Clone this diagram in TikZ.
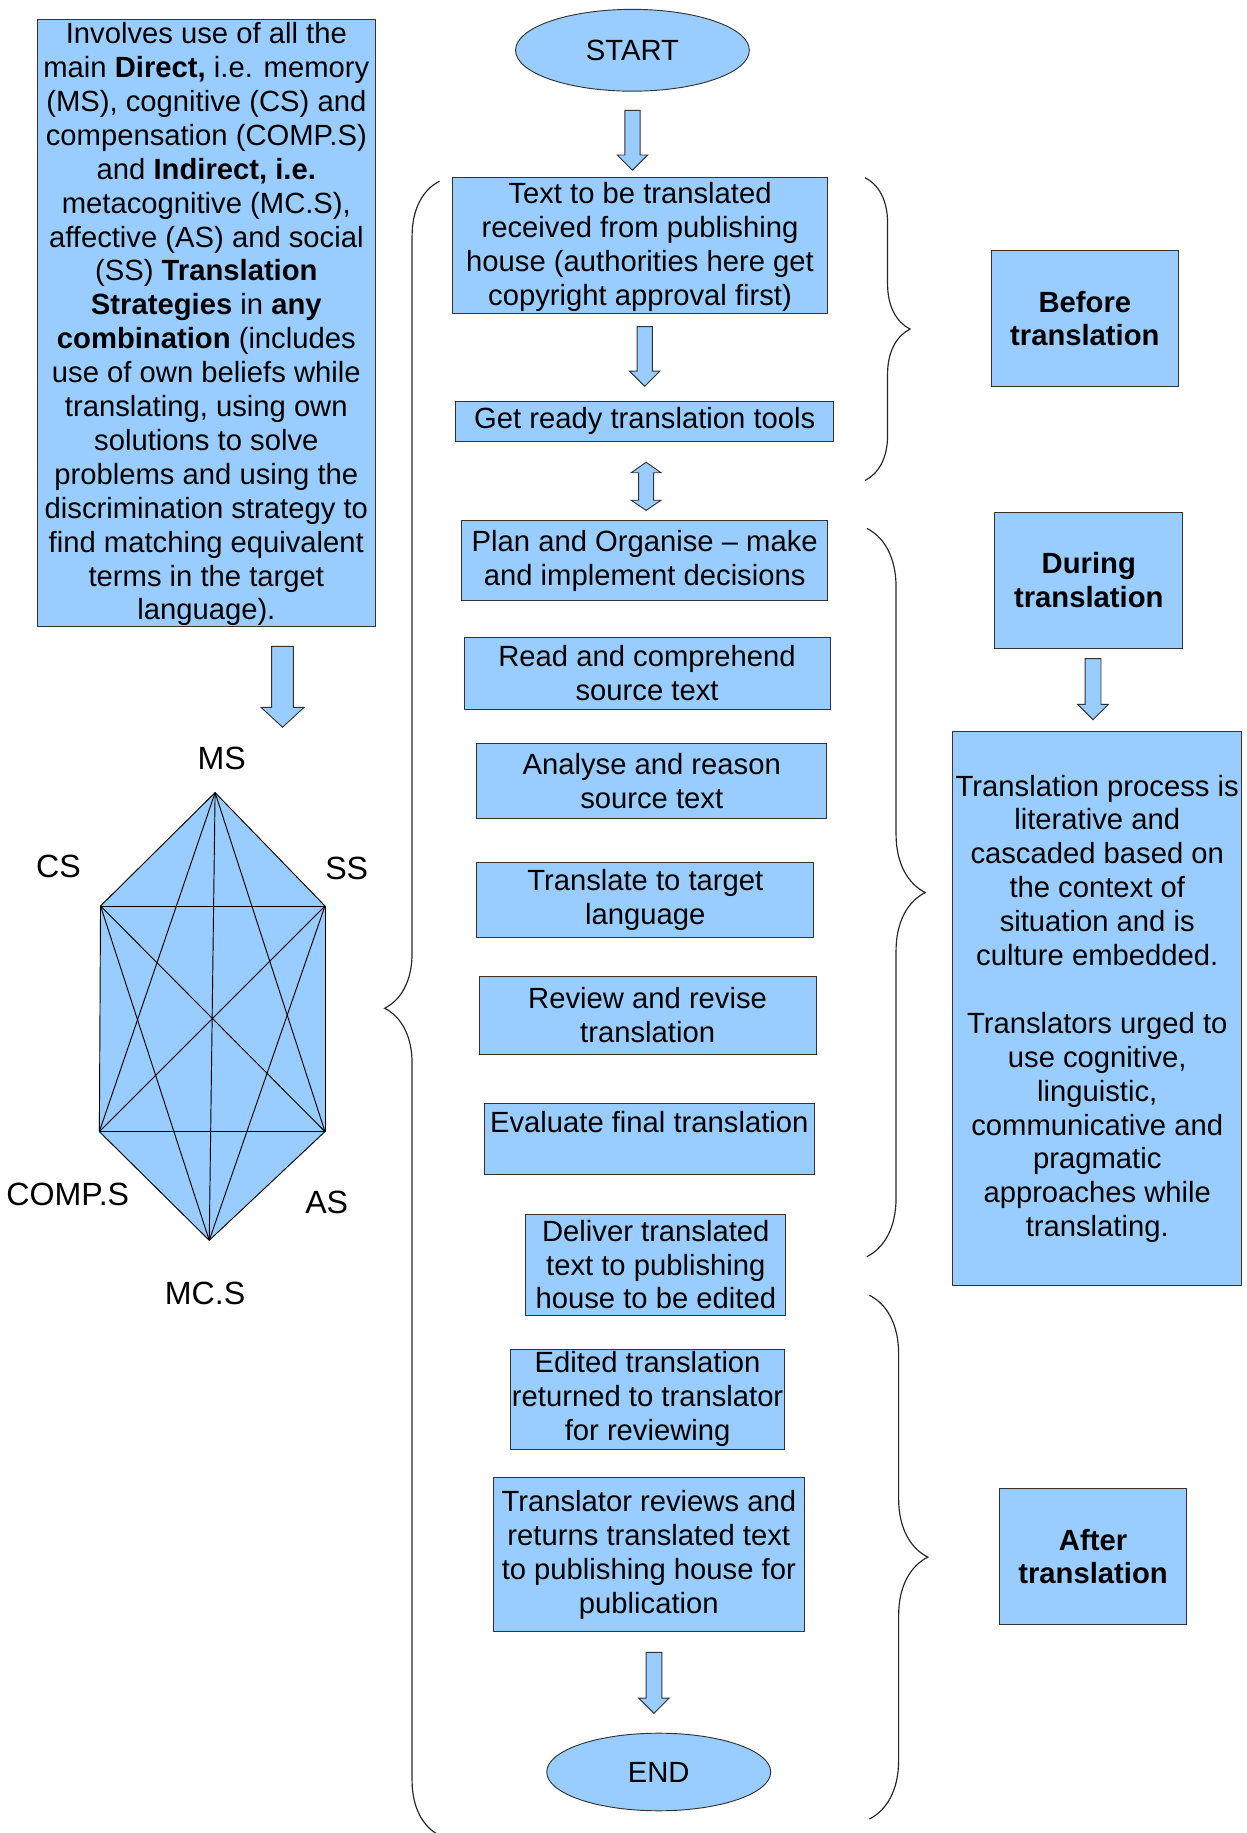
\documentclass[tikz,border=0pt]{standalone}
\usepackage{fontspec}
\setmainfont{Liberation Sans}
\usepackage{xcolor}
\usepackage{tikz}
\usetikzlibrary{calc, shapes.geometric, decorations.pathreplacing}

\definecolor{boxblue}{HTML}{99CCFF}

% block arrow pointing down: top point, tip point, half shaft, half head, head length
\newcommand{\flowarrow}[5]{%
  \draw[blockarrow] let \p1=#1, \p2=#2 in
    (\x1-#3,\y1) -- (\x1+#3,\y1) -- (\x1+#3,\y2+#5) -- (\x1+#4,\y2+#5)
    -- (\x1,\y2) -- (\x1-#4,\y2+#5) -- (\x1-#3,\y2+#5) -- cycle;}

\begin{document}
\begin{tikzpicture}[x=0.5pt, y=-0.5pt,
    font=\fontsize{12.5}{14.5}\selectfont,
    flowbox/.style={draw=black!80, fill=boxblue, align=center, inner sep=0pt},
    termnode/.style={draw=black!80, fill=boxblue, ellipse, inner sep=0pt},
    blockarrow/.style={draw=black!80, fill=boxblue, line width=0.4pt},
    hexlabel/.style={font=\fontsize{13.75}{16}\selectfont},
    bracestyle/.style={draw=black!85, line width=0.5pt, decorate, decoration={brace, amplitude=#1}}]
	\useasboundingbox (0,0) rectangle (1066,1568);

	% strategies
	\node[flowbox, minimum width=144.5pt, minimum height=259.75pt] (strat) at (176.5,276.25)
		{\strut Involves use of all the\\ main \textbf{Direct,} i.e. memory\\ (MS), cognitive (CS) and\\
		 compensation (COMP.S)\\ and \textbf{Indirect, i.e.}\\ metacognitive (MC.S),\\
		 affective (AS) and social\\ (SS) \textbf{Translation}\\ \textbf{Strategies} in \textbf{any}\\
		 \textbf{combination} (includes\\ use of own beliefs while\\ translating, using own\\
		 solutions to solve\\ problems and using the\\ discrimination strategy to\\
		 find matching equivalent\\ terms in the target\\ language).};

	\coordinate (ms) at (184,678);
	\coordinate (cs) at (86,775);
	\coordinate (ss) at (278,775);
	\coordinate (comp) at (85,968);
	\coordinate (as) at (278,968);
	\coordinate (mcs) at (179,1061);
	\fill[boxblue] (ms) -- (ss) -- (as) -- (mcs) -- (comp) -- (cs) -- cycle;
	\foreach \a/\b in {ms/cs, ms/ss, ms/comp, ms/as, ms/mcs, cs/ss, cs/comp, cs/as,
	                   cs/mcs, ss/comp, ss/as, ss/mcs, comp/as, comp/mcs, as/mcs}
		\draw[line width=0.4pt] (\a) -- (\b);

	\node[hexlabel] (mslabel) at (189.6,648.5) {MS};
	\node[hexlabel] (cslabel) at (50,741) {CS};
	\node[hexlabel] (sslabel) at (296.6,742.6) {SS};
	\node[hexlabel] (complabel) at (58,1022) {COMP.S};
	\node[hexlabel] (aslabel) at (279.5,1029) {AS};
	\node[hexlabel] (mcslabel) at (175.4,1106) {MC.S};

	% process steps
	\node[termnode, minimum width=100pt, minimum height=35pt] (start) at (541,43) {START};
	\node[flowbox, minimum width=160.5pt, minimum height=58pt] (recv) at (547.5,210)
		{\strut Text to be translated\\ received from publishing\\ house (authorities here get\\ copyright approval first)};
	\node[flowbox, minimum width=161.5pt, minimum height=17pt] (tools) at (551.5,360.5)
		{Get ready translation tools};
	\node[flowbox, minimum width=156.5pt, minimum height=34.5pt] (plan) at (551.5,479.5)
		{Plan and Organise – make\\ and implement decisions};
	\node[flowbox, minimum width=156.5pt, minimum height=31pt] (read) at (553.5,576)
		{Read and comprehend\\ source text};
	\node[flowbox, minimum width=149.5pt, minimum height=32pt] (analyse) at (557.5,668)
		{Analyse and reason\\ source text};
	\node[flowbox, minimum width=144pt, minimum height=32pt] (target) at (552,770)
		{Translate to target\\ language};
	\node[flowbox, minimum width=144pt, minimum height=33.5pt] (revise) at (554,868.5)
		{Review and revise\\ translation};
	\node[flowbox, minimum width=141pt, minimum height=30.5pt] (evaluate) at (555.4,974.5)
		{Evaluate final translation\\ \mbox{}};
	\node[flowbox, minimum width=111.25pt, minimum height=43.2pt] (deliver) at (561,1081.8)
		{Deliver translated\\ text to publishing\\ house to be edited};
	\node[flowbox, minimum width=117pt, minimum height=43pt] (edited) at (554,1197)
		{Edited translation\\ returned to translator\\ for reviewing};
	\node[flowbox, minimum width=133pt, minimum height=66pt] (reviews) at (555,1330)
		{Translator reviews and\\ returns translated text\\ to publishing house for\\ publication};
	\node[termnode, minimum width=95.8pt, minimum height=33.2pt] (endnode) at (563.5,1515.8) {END};

	% phases
	\node[flowbox, minimum width=80pt, minimum height=58.5pt] (before) at (928,272.5)
		{\textbf{Before}\\ \textbf{translation}};
	\node[flowbox, minimum width=80.4pt, minimum height=58.25pt] (during) at (931.4,496.25)
		{\textbf{During}\\ \textbf{translation}};
	\node[flowbox, minimum width=123.6pt, minimum height=237pt] (process) at (938.6,863)
		{Translation process is\\ literative and\\ cascaded based on\\ the context of\\
		 situation and is\\ culture embedded.\\[14.5pt] Translators urged to\\ use cognitive,\\
		 linguistic,\\ communicative and\\ pragmatic\\ approaches while\\ translating.};
	\node[flowbox, minimum width=80pt, minimum height=58.5pt] (after) at (935,1331.5)
		{\textbf{After}\\ \textbf{translation}};

	% arrows
	\flowarrow{($(start.south)+(0,16)$)}{($(recv.north)+(0,-6)$)}{3.25pt}{6.5pt}{6.5pt}
	\flowarrow{($(recv.south)+(4,11)$)}{($(tools.north)+(0,-12.6)$)}{3.25pt}{6.5pt}{6.5pt}
	\flowarrow{($(strat.south)+(65.2,16.6)$)}{($(strat.south)+(0,85.7)$)}{4.65pt}{9.2pt}{8.5pt}
	\flowarrow{($(during.south)+(3.6,8.5)$)}{($(process.north)+(0,-10)$)}{3.4pt}{6.5pt}{6.5pt}
	\flowarrow{($(reviews.south)+(4.4,17)$)}{($(endnode.north)+(0,-16.6)$)}{3.35pt}{6.5pt}{6.5pt}
	\draw[blockarrow] let \p1=($(tools.south)+(1.2,17.5)$), \p2=($(plan.north)+(0,-8)$) in
		(\x1,\y1) -- (\x1+6.4pt,\y1-4.5pt) -- (\x1+3.2pt,\y1-4.5pt) -- (\x1+3.2pt,\y2+4.35pt)
		-- (\x1+6.4pt,\y2+4.35pt) -- (\x1,\y2) -- (\x1-6.4pt,\y2+4.35pt) -- (\x1-3.2pt,\y2+4.35pt)
		-- (\x1-3.2pt,\y1-4.5pt) -- (\x1-6.4pt,\y1-4.5pt) -- cycle;

	% braces
	\draw[bracestyle=19.25pt] (740,152) -- (740,411);
	\draw[bracestyle=25pt] (741.5,452) -- (741.5,1075);
	\draw[bracestyle=25pt] (743.7,1108) -- (743.7,1556);
	\draw[bracestyle=23.5pt] (376,1570) -- (376,155);
\end{tikzpicture}
\end{document}
